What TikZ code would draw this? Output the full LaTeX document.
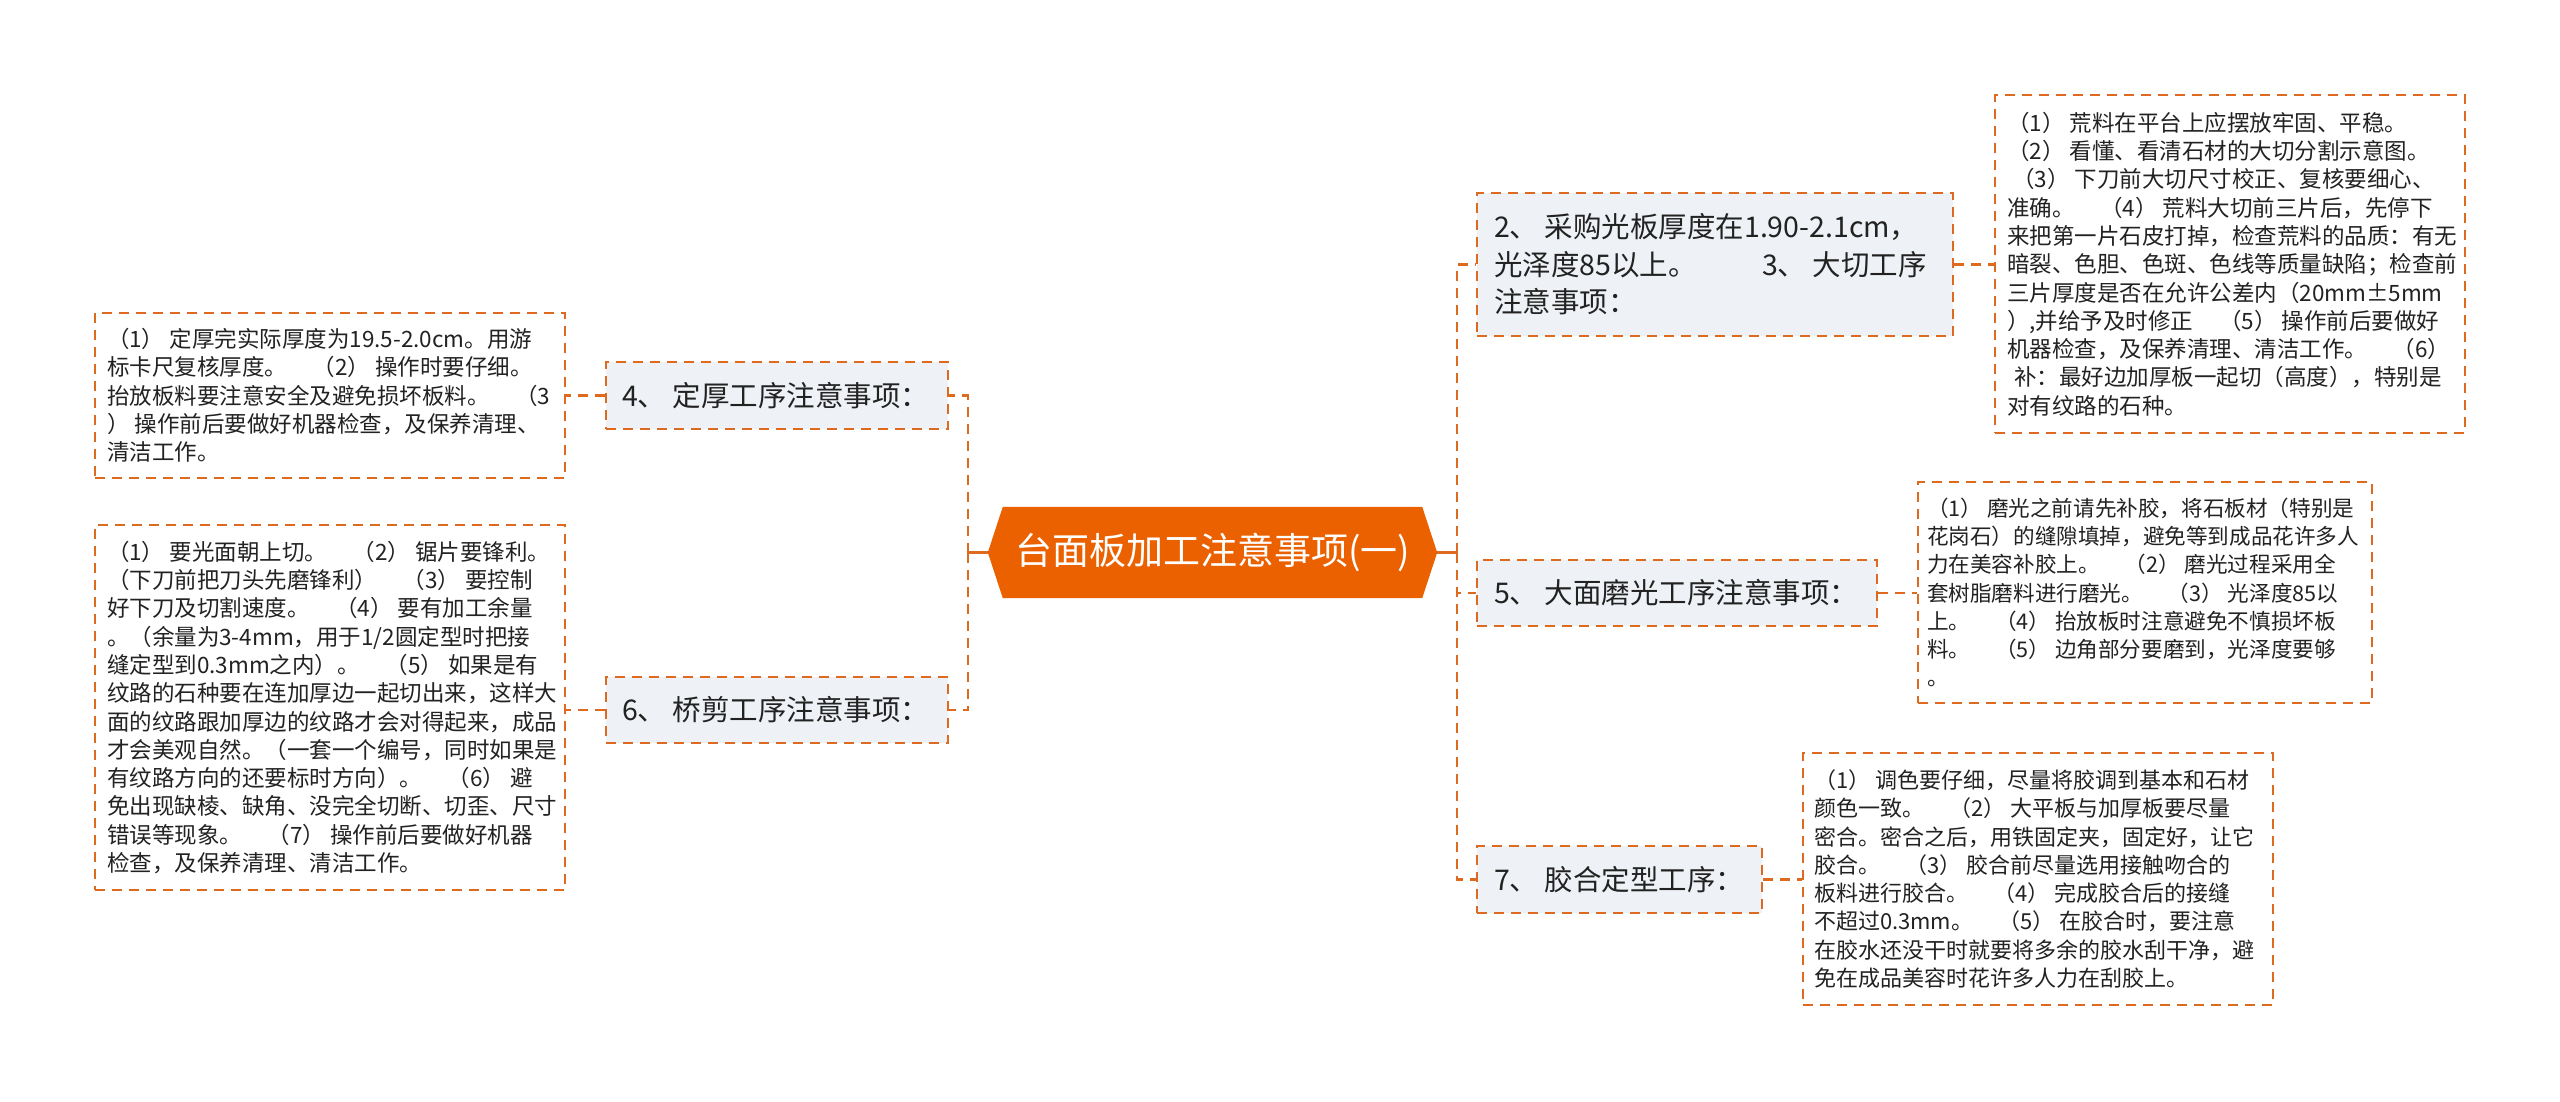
\documentclass[tikz,border=0pt]{standalone}
\usepackage{fontspec}
\setmainfont{Noto Sans CJK SC}
\usetikzlibrary{calc}
\definecolor{lineor}{HTML}{DD6A1E}
\definecolor{rootor}{HTML}{EB6100}
\definecolor{nodefill}{HTML}{EEF1F5}
\definecolor{txt}{HTML}{222222}
\newcommand{\gp}{\hspace{1.15em}}
\begin{document}
\begin{tikzpicture}[x=1pt,y=-1pt,
  conn/.style={draw=lineor, line width=2.6pt, dash pattern=on 10pt off 7pt},
  rootconn/.style={draw=lineor, line width=2.6pt},
  topicbox/.style={draw=lineor, fill=nodefill, line width=2.4pt, dash pattern=on 10pt off 7pt, rectangle, inner sep=0pt},
  leafbox/.style={draw=lineor, fill=white, line width=2.4pt, dash pattern=on 10pt off 7pt, rectangle, inner sep=0pt},
  topictext/.style={anchor=west, inner sep=0pt, align=left, text=txt, font=\fontsize{28.5}{37.5}\selectfont},
  leaftext/.style={anchor=west, inner sep=0pt, align=left, text=txt, font=\fontsize{22.5}{28.3}\selectfont},
]
\fill[white] (0,0) rectangle (2560,1101);
\useasboundingbox (0,0) rectangle (2560,1101);

% root
\node[minimum width=449pt, minimum height=91pt, inner sep=0pt] (root) at (1212.5,552.5) {};
\fill[rootor] (root.west) -- ([xshift=15pt]root.north west) -- ([xshift=-15pt]root.north east) -- (root.east) -- ([xshift=-15pt]root.south east) -- ([xshift=15pt]root.south west) -- cycle;
\node[text=white, font=\fontsize{37}{44}\selectfont, inner sep=0pt] (roott) at (root.center) {台面板加工注意事项(一)};

% left topics
\node[topicbox, minimum width=342pt, minimum height=67pt] (n4) at (777,395.5) {};
\node[topictext] (n4t) at ([xshift=17pt]n4.west) {4、 定厚工序注意事项：};
\node[topicbox, minimum width=342pt, minimum height=66pt] (n6) at (777,710) {};
\node[topictext] (n6t) at ([xshift=17pt]n6.west) {6、 桥剪工序注意事项：};

% right topics
\node[topicbox, minimum width=476pt, minimum height=143pt] (n2) at (1715,264.5) {};
\node[topictext] (n2t) at ([xshift=18pt]n2.west) {2、 采购光板厚度在1.90-2.1cm，\\光泽度85以上。\gp\gp 3、 大切工序\\注意事项：};
\node[topicbox, minimum width=400pt, minimum height=66pt] (n5) at (1677,593) {};
\node[topictext] (n5t) at ([xshift=18pt]n5.west) {5、 大面磨光工序注意事项：};
\node[topicbox, minimum width=285pt, minimum height=67pt] (n7) at (1619.5,879.5) {};
\node[topictext] (n7t) at ([xshift=18pt]n7.west) {7、 胶合定型工序：};

% leaves
\node[leafbox, minimum width=470pt, minimum height=165pt] (l4) at (330,395.5) {};
\node[leaftext] (l4t) at ([xshift=13pt]l4.west) {（1） 定厚完实际厚度为19.5-2.0cm。用游\\标卡尺复核厚度。\gp（2） 操作时要仔细。\\抬放板料要注意安全及避免损坏板料。\gp（3\\） 操作前后要做好机器检查，及保养清理、\\清洁工作。};

\node[leafbox, minimum width=470pt, minimum height=365pt] (l6) at (330,707.5) {};
\node[leaftext] (l6t) at ([xshift=13pt]l6.west) {（1） 要光面朝上切。\gp（2） 锯片要锋利。\\（下刀前把刀头先磨锋利）\gp（3） 要控制\\好下刀及切割速度。\gp（4） 要有加工余量\\。（余量为3-4mm，用于1/2圆定型时把接\\缝定型到0.3mm之内）。\gp（5） 如果是有\\纹路的石种要在连加厚边一起切出来，这样大\\面的纹路跟加厚边的纹路才会对得起来，成品\\才会美观自然。（一套一个编号，同时如果是\\有纹路方向的还要标时方向）。\gp（6） 避\\免出现缺棱、缺角、没完全切断、切歪、尺寸\\错误等现象。\gp（7） 操作前后要做好机器\\检查，及保养清理、清洁工作。};

\node[leafbox, minimum width=470pt, minimum height=338pt] (l2) at (2230,264) {};
\node[leaftext] (l2t) at ([xshift=13pt]l2.west) {（1） 荒料在平台上应摆放牢固、平稳。\\（2） 看懂、看清石材的大切分割示意图。\\\hspace*{5pt}（3） 下刀前大切尺寸校正、复核要细心、\\准确。\gp（4） 荒料大切前三片后，先停下\\来把第一片石皮打掉，检查荒料的品质：有无\\暗裂、色胆、色斑、色线等质量缺陷；检查前\\三片厚度是否在允许公差内（20mm±5mm\\）,并给予及时修正\gp（5） 操作前后要做好\\机器检查，及保养清理、清洁工作。\gp（6）\\\hspace*{7pt}补：最好边加厚板一起切（高度），特别是\\对有纹路的石种。};

\node[leafbox, minimum width=454pt, minimum height=221pt] (l5) at (2145,592.5) {};
\node[leaftext, font=\fontsize{21.6}{28.3}\selectfont] (l5t) at ([xshift=10pt]l5.west) {（1） 磨光之前请先补胶，将石板材（特别是\\花岗石）的缝隙填掉，避免等到成品花许多人\\力在美容补胶上。\gp（2） 磨光过程采用全\\套树脂磨料进行磨光。\gp（3） 光泽度85以\\上。\gp（4） 抬放板时注意避免不慎损坏板\\料。\gp（5） 边角部分要磨到，光泽度要够\\。};

\node[leafbox, minimum width=470pt, minimum height=252pt] (l7) at (2038,879) {};
\node[leaftext, font=\fontsize{22}{28.3}\selectfont] (l7t) at ([xshift=12pt]l7.west) {（1） 调色要仔细，尽量将胶调到基本和石材\\颜色一致。\gp（2） 大平板与加厚板要尽量\\密合。密合之后，用铁固定夹，固定好，让它\\胶合。\gp（3） 胶合前尽量选用接触吻合的\\板料进行胶合。\gp（4） 完成胶合后的接缝\\不超过0.3mm。\gp（5） 在胶合时，要注意\\在胶水还没干时就要将多余的胶水刮干净，避\\免在成品美容时花许多人力在刮胶上。};

% connectors
\coordinate (lt) at (968,552.5);
\coordinate (rt) at (1457,552.5);
\draw[rootconn] (root.west) -- (lt);
\draw[rootconn] (root.east) -- (rt);
\draw[conn] (lt) |- (n4.east);
\draw[conn] (lt) |- (n6.east);
\draw[conn] (rt) |- (n2.west);
\draw[conn] (rt) |- (n5.west);
\draw[conn] (rt) |- (n7.west);
\draw[conn] (n4.west) -- (n4.west -| l4.east);
\draw[conn] (n6.west) -- (n6.west -| l6.east);
\draw[conn] (n2.east) -- (n2.east -| l2.west);
\draw[conn] (n5.east) -- (n5.east -| l5.west);
\draw[conn] (n7.east) -- (n7.east -| l7.west);
\end{tikzpicture}
\end{document}
